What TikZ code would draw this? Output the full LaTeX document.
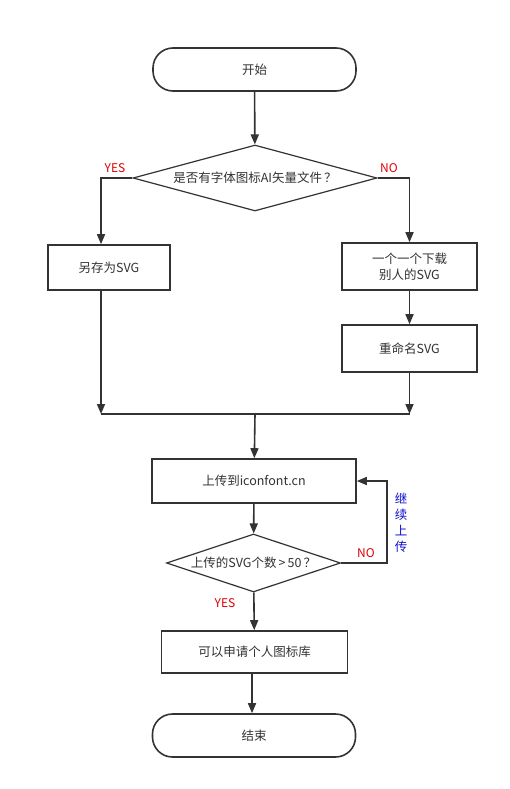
\documentclass[tikz,border=0pt]{standalone}
\usepackage{fontspec}
\setmainfont{Noto Sans CJK SC}
\usetikzlibrary{arrows.meta,shapes.geometric}
\definecolor{ink}{HTML}{333333}
\definecolor{lbred}{HTML}{E00000}
\definecolor{lbblue}{HTML}{1010D0}
\begin{document}
\begin{tikzpicture}[x=1pt,y=-1pt,
  every node/.style={font=\fontsize{12.5}{16}\selectfont, text=ink},
  term/.style={draw=ink, line width=1.6pt, rounded corners=20pt, minimum width=203pt, minimum height=43pt, inner sep=0pt},
  proc/.style={draw=ink, line width=1.6pt, inner sep=0pt, align=center},
  dec/.style={draw=ink, line width=1.2pt, diamond, inner sep=0pt, aspect=3.7},
  conn/.style={draw=ink, line width=1.6pt},
  arr/.style={conn, -{Triangle[length=10pt,width=8pt]}},
  lab/.style={font=\fontsize{12}{14}\selectfont, text=lbred, inner sep=0pt}
]
\fill[white] (0,0) rectangle (509,789);
\useasboundingbox (0,0) rectangle (509,789);

\node[term] (start) at (254.5,69.5) {开始};
\node[dec, minimum width=244pt, minimum height=66pt] (d1) at (255,178) {是否有字体图标AI矢量文件\,？};
\node[proc, minimum width=122pt, minimum height=45pt] (b1) at (109,267.5) {另存为SVG};
\node[proc, minimum width=135pt, minimum height=47pt] (b2) at (409.5,266.5) {一个一个下载\\别人的SVG};
\node[proc, minimum width=135pt, minimum height=47pt] (b3) at (409.5,348.5) {重命名SVG};
\coordinate (mL) at (101,414);
\coordinate (mR) at (409.5,414);
\coordinate (mC) at (255,414);
\node[proc, minimum width=204pt, minimum height=44pt] (b4) at (254,481) {上传到iconfont.cn};
\node[dec, minimum width=174pt, minimum height=58pt] (d2) at (253.5,563) {上传的SVG个数\,>\,50\,？};
\node[proc, minimum width=186pt, minimum height=42pt] (b5) at (254.5,652) {可以申请个人图标库};
\node[term] (end) at (254,735.5) {结束};

\node[lab] (yes1) at (115,168) {YES};
\node[lab] (no1) at (389,168) {NO};
\node[lab] (no2) at (366,553) {NO};
\node[lab] (yes2) at (225,603) {YES};
\node[text=lbblue, align=center, inner sep=0pt, font=\fontsize{12.5}{16}\selectfont] (cont) at (401,523) {继\\续\\上\\传};

\draw[arr] (start) -- (d1);
\draw[arr] (d1.west) -| (b1.north -| mL);
\draw[arr] (d1.east) -| (b2.north);
\draw[arr] (b2) -- (b3);
\draw[arr] (b1.south -| mL) -- (mL);
\draw[arr] (b3) -- (mR);
\draw[conn] (mL) -- (mR);
\draw[arr] (mC) -- (b4);
\draw[arr] (b4) -- (d2);
\draw[arr] (d2.east) -- ++(45.7,0) |- (b4.east);
\draw[arr] (d2) -- (b5);
\draw[arr] (b5.south -| 252,0) -- (end.north -| 252,0);
\end{tikzpicture}
\end{document}
